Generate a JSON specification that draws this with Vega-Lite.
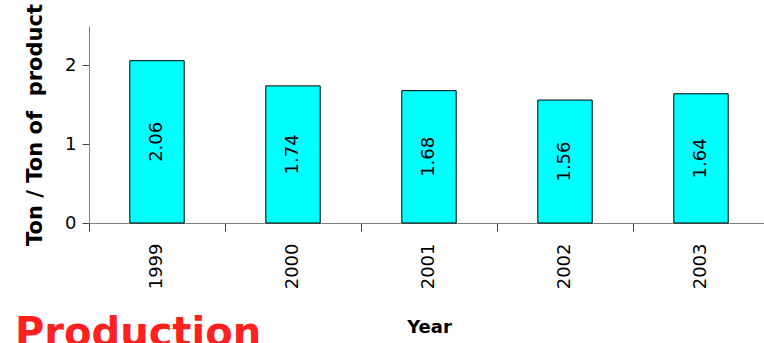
{
  "$schema": "https://vega.github.io/schema/vega-lite/v6.json",
  "autosize": {"type": "none"},
  "padding": {"left": 89, "top": 26, "right": 0, "bottom": 120},
  "width": 680,
  "height": 197,
  "background": "white",
  "title": {
    "text": "Production",
    "orient": "bottom",
    "anchor": "start",
    "frame": "group",
    "dx": -74,
    "offset": -23,
    "font": "DejaVu Sans",
    "fontSize": 40,
    "fontWeight": "bold",
    "color": "#ff2020"
  },
  "data": {
    "values": [
      {"year": "1999", "ratio": 2.06},
      {"year": "2000", "ratio": 1.74},
      {"year": "2001", "ratio": 1.68},
      {"year": "2002", "ratio": 1.56},
      {"year": "2003", "ratio": 1.64}
    ]
  },
  "encoding": {
    "x": {
      "field": "year",
      "type": "ordinal",
      "scale": {"paddingInner": 0, "paddingOuter": 0},
      "axis": {
        "title": "Year",
        "labelAngle": -90,
        "labelFontSize": 18,
        "labelPadding": 12,
        "bandPosition": 0,
        "tickSize": 8,
        "tickColor": "#404040",
        "domainColor": "#808080",
        "titleFontSize": 18,
        "titleFontWeight": "bold",
        "titlePadding": 30
      }
    }
  },
  "layer": [
    {
      "mark": {"type": "bar", "fill": "#00ffff", "stroke": "black", "strokeWidth": 1, "width": {"band": 0.4}},
      "encoding": {
        "y": {
          "field": "ratio",
          "type": "quantitative",
          "scale": {"domain": [0, 2.5], "nice": false},
          "axis": {
            "title": "Ton / Ton of\u00a0 product",
            "values": [0, 1, 2],
            "format": "d",
            "grid": false,
            "labelFontSize": 18,
            "labelPadding": 6,
            "tickSize": 7,
            "tickColor": "#404040",
            "domainColor": "#808080",
            "titleFontSize": 21,
            "titleFontWeight": "bold",
            "titlePadding": 19
          }
        }
      }
    },
    {
      "transform": [{"calculate": "datum.ratio / 2", "as": "mid"}],
      "mark": {"type": "text", "angle": 270, "align": "center", "baseline": "middle", "fontSize": 18, "color": "black"},
      "encoding": {
        "y": {"field": "mid", "type": "quantitative"},
        "text": {"field": "ratio", "type": "quantitative", "format": ".2f"}
      }
    }
  ],
  "config": {
    "font": "DejaVu Sans",
    "view": {"stroke": null},
    "axis": {"labelColor": "black", "titleColor": "black"}
  }
}
